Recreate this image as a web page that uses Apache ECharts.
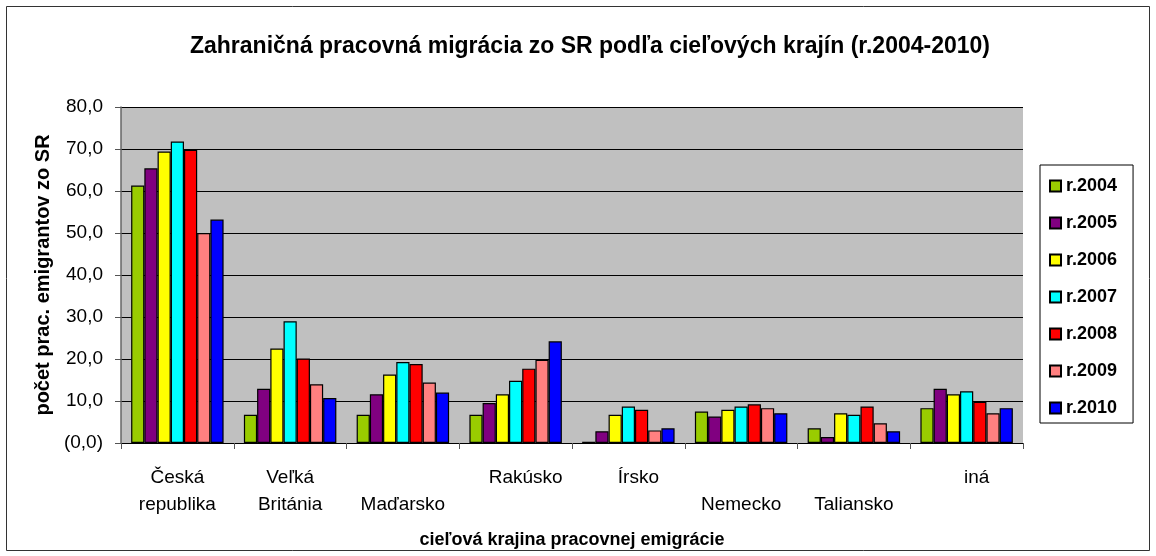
<!DOCTYPE html>
<html>
<head>
<meta charset="utf-8">
<script src="https://cdn.jsdelivr.net/npm/echarts@6/dist/echarts.min.js"></script>
<style>
  html, body { margin: 0; padding: 0; background: #fff; }
  #chart { width: 1156px; height: 556px; }
</style>
</head>
<body>
<div id="chart"></div>
<script>
const FONT = '"Liberation Sans", Arial, sans-serif'

const categories = ['Česká republika', 'Veľká Británia', 'Maďarsko', 'Rakúsko', 'Írsko', 'Nemecko', 'Taliansko', 'iná']
const years = ['r.2004', 'r.2005', 'r.2006', 'r.2007', 'r.2008', 'r.2009', 'r.2010']

const v2004 = [61.3, 6.7, 6.7, 6.7, 0.3, 7.5, 3.5, 8.3]
const v2005 = [65.4, 12.9, 11.6, 9.5, 2.8, 6.3, 1.4, 12.9]
const v2006 = [69.4, 22.5, 16.3, 11.6, 6.7, 7.9, 7.1, 11.6]
const v2007 = [71.8, 29.0, 19.3, 14.8, 8.7, 8.7, 6.7, 12.3]
const v2008 = [69.8, 20.1, 18.8, 17.7, 7.9, 9.2, 8.7, 9.8]
const v2009 = [50.0, 14.0, 14.4, 19.8, 3.0, 8.3, 4.7, 7.1]
const v2010 = [53.2, 10.7, 12.0, 24.2, 3.5, 7.1, 2.8, 8.3]

const colors = ['#99cc00', '#800080', '#ffff00', '#00ffff', '#ff0000', '#ff8080', '#0000ff']
const seriesValues = [v2004, v2005, v2006, v2007, v2008, v2009, v2010]

// staggered category labels as in the original (Excel layout)
const labelText = {
  'Česká republika': 'Česká\nrepublika',
  'Veľká Británia': 'Veľká\nBritánia',
  'Maďarsko': '\nMaďarsko',
  'Nemecko': '\nNemecko',
  'Taliansko': '\nTaliansko'
}
const shifted = ['Rakúsko', 'Írsko', 'iná']

const chart = echarts.init(document.getElementById('chart'))

chart.setOption({
  animation: false,
  textStyle: { fontFamily: FONT },
  title: {
    text: 'Zahraničná pracovná migrácia zo SR podľa cieľových krajín (r.2004-2010)',
    left: 585,
    textAlign: 'center',
    top: 30,
    textStyle: { fontFamily: FONT, fontSize: 23, fontWeight: 'bold', color: '#000' }
  },
  graphic: [{
    type: 'rect',
    shape: { x: 6.5, y: 6.5, width: 1143, height: 544 },
    style: { fill: 'none', stroke: '#333', lineWidth: 1 },
    silent: true
  }],
  legend: {
    orient: 'vertical',
    left: 1040,
    top: 165,
    padding: [12, 16, 6, 9],
    itemWidth: 11,
    itemHeight: 11,
    itemGap: 19,
    borderColor: '#000',
    borderWidth: 1,
    icon: 'rect',
    textStyle: { fontFamily: FONT, fontSize: 18, fontWeight: 'bold', color: '#000', lineHeight: 17 },
    data: years
  },
  grid: { left: 121, right: 133, top: 107, bottom: 113, backgroundColor: '#c0c0c0', show: true, borderWidth: 0 },
  xAxis: {
    type: 'category',
    data: categories.map(c => shifted.includes(c) ? { value: c, textStyle: { padding: [0, 0, 0, 20] } } : c),
    name: 'cieľová krajina pracovnej emigrácie',
    nameLocation: 'middle',
    nameGap: 88,
    nameTextStyle: { fontFamily: FONT, fontSize: 18, fontWeight: 'bold', color: '#000' },
    axisLine: { lineStyle: { color: '#000', width: 1 } },
    axisTick: { show: true, length: 6, lineStyle: { color: '#555' } },
    axisLabel: {
      interval: 0,
      margin: 21,
      fontSize: 19,
      lineHeight: 27,
      color: '#000',
      fontFamily: FONT,
      formatter: v => labelText[v] || v
    }
  },
  yAxis: {
    type: 'value',
    min: 0,
    max: 80,
    interval: 10,
    name: 'počet prac. emigrantov zo SR',
    nameLocation: 'middle',
    nameGap: 58,
    nameTextStyle: { fontFamily: FONT, fontSize: 20, fontWeight: 'bold', color: '#000' },
    axisLine: { show: true, lineStyle: { color: '#666', width: 1.5 } },
    axisTick: { show: true, length: 6, lineStyle: { color: '#555' } },
    axisLabel: {
      margin: 18,
      fontSize: 19,
      color: '#000',
      fontFamily: FONT,
      formatter: v => v === 0 ? '(0,0)' : v.toFixed(1).replace('.', ',')
    },
    splitLine: { show: true, lineStyle: { color: '#000', width: 1 } }
  },
  series: years.map((y, i) => ({
    name: y,
    type: 'bar',
    data: seriesValues[i],
    barGap: '0%',
    barCategoryGap: '18%',
    itemStyle: { color: colors[i], borderColor: '#000', borderWidth: 1.2 }
  }))
})
</script>
</body>
</html>
